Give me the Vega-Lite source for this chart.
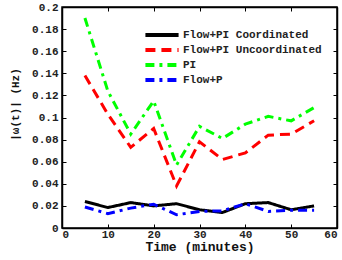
{
  "$schema": "https://vega.github.io/schema/vega-lite/v6.json",
  "width": 275,
  "height": 221,
  "autosize": "none",
  "padding": {"left": 62, "top": 7, "right": 5, "bottom": 32},
  "config": {
    "view": {"stroke": "black", "strokeWidth": 1.5},
    "font": "Liberation Mono",
    "axis": {
      "labelFont": "Liberation Mono", "labelFontWeight": "bold", "labelFontSize": 11, "labelColor": "#222",
      "titleFont": "Liberation Mono", "titleFontWeight": "bold", "titleFontSize": 13, "titleColor": "#111",
      "grid": false, "domainColor": "black", "domainWidth": 1.5, "tickColor": "black", "tickSize": -4, "tickWidth": 1
    }
  },
  "data": {"values": [
    {"t": 5, "v": 0.024, "s": "Flow+PI Coordinated"},
    {"t": 10, "v": 0.0185, "s": "Flow+PI Coordinated"},
    {"t": 15, "v": 0.023, "s": "Flow+PI Coordinated"},
    {"t": 20, "v": 0.020, "s": "Flow+PI Coordinated"},
    {"t": 25, "v": 0.022, "s": "Flow+PI Coordinated"},
    {"t": 30, "v": 0.0165, "s": "Flow+PI Coordinated"},
    {"t": 35, "v": 0.014, "s": "Flow+PI Coordinated"},
    {"t": 40, "v": 0.022, "s": "Flow+PI Coordinated"},
    {"t": 45, "v": 0.023, "s": "Flow+PI Coordinated"},
    {"t": 50, "v": 0.0165, "s": "Flow+PI Coordinated"},
    {"t": 55, "v": 0.020, "s": "Flow+PI Coordinated"},
    {"t": 5, "v": 0.138, "s": "Flow+PI Uncoordinated"},
    {"t": 10, "v": 0.103, "s": "Flow+PI Uncoordinated"},
    {"t": 15, "v": 0.073, "s": "Flow+PI Uncoordinated"},
    {"t": 20, "v": 0.090, "s": "Flow+PI Uncoordinated"},
    {"t": 25, "v": 0.038, "s": "Flow+PI Uncoordinated"},
    {"t": 30, "v": 0.078, "s": "Flow+PI Uncoordinated"},
    {"t": 35, "v": 0.062, "s": "Flow+PI Uncoordinated"},
    {"t": 40, "v": 0.068, "s": "Flow+PI Uncoordinated"},
    {"t": 45, "v": 0.084, "s": "Flow+PI Uncoordinated"},
    {"t": 50, "v": 0.085, "s": "Flow+PI Uncoordinated"},
    {"t": 55, "v": 0.097, "s": "Flow+PI Uncoordinated"},
    {"t": 5, "v": 0.190, "s": "PI"},
    {"t": 10, "v": 0.124, "s": "PI"},
    {"t": 15, "v": 0.085, "s": "PI"},
    {"t": 20, "v": 0.115, "s": "PI"},
    {"t": 25, "v": 0.057, "s": "PI"},
    {"t": 30, "v": 0.092, "s": "PI"},
    {"t": 35, "v": 0.081, "s": "PI"},
    {"t": 40, "v": 0.094, "s": "PI"},
    {"t": 45, "v": 0.101, "s": "PI"},
    {"t": 50, "v": 0.097, "s": "PI"},
    {"t": 55, "v": 0.109, "s": "PI"},
    {"t": 5, "v": 0.019, "s": "Flow+P"},
    {"t": 10, "v": 0.013, "s": "Flow+P"},
    {"t": 15, "v": 0.018, "s": "Flow+P"},
    {"t": 20, "v": 0.0215, "s": "Flow+P"},
    {"t": 25, "v": 0.012, "s": "Flow+P"},
    {"t": 30, "v": 0.015, "s": "Flow+P"},
    {"t": 35, "v": 0.0155, "s": "Flow+P"},
    {"t": 40, "v": 0.022, "s": "Flow+P"},
    {"t": 45, "v": 0.015, "s": "Flow+P"},
    {"t": 50, "v": 0.016, "s": "Flow+P"},
    {"t": 55, "v": 0.016, "s": "Flow+P"}
  ]},
  "layer": [
    {
      "mark": {"type": "line", "strokeWidth": 3},
      "encoding": {
        "x": {"field": "t", "type": "quantitative", "scale": {"domain": [0, 60], "nice": false}, "axis": {"values": [0,10,20,30,40,50,60], "title": "Time (minutes)", "labelPadding": 4, "titlePadding": 1}},
        "y": {"field": "v", "type": "quantitative", "scale": {"domain": [0, 0.2], "nice": false}, "axis": {"values": [0,0.02,0.04,0.06,0.08,0.1,0.12,0.14,0.16,0.18,0.2], "format": ".2~f", "title": "|ω(t)| (Hz)", "labelPadding": 8, "titleX": -42, "titleY": 97, "titleFontSize": 11}},
        "color": {"field": "s", "type": "nominal", "sort": null,
          "scale": {"domain": ["Flow+PI Coordinated", "Flow+PI Uncoordinated", "PI", "Flow+P"], "range": ["black", "#ff0000", "#00ff00", "#0000ff"]},
          "legend": {"title": null, "orient": "none", "legendX": 81, "legendY": 22, "symbolType": "stroke", "symbolSize": 1100, "symbolStrokeWidth": 4, "clipHeight": 12, "labelFont": "Liberation Mono", "labelFontWeight": "bold", "labelFontSize": 11, "labelColor": "#222", "labelLimit": 0, "rowPadding": 3, "labelOffset": 2}},
        "strokeDash": {"field": "s", "type": "nominal", "sort": null,
          "scale": {"domain": ["Flow+PI Coordinated", "Flow+PI Uncoordinated", "PI", "Flow+P"], "range": [[1,0], [10,6], [9,5,3,5], [9,5,3,5]]},
          "legend": null}
      }
    },
    {
      "mark": {"type": "line", "opacity": 0},
      "encoding": {
        "x": {"field": "t", "type": "quantitative", "scale": {"domain": [0, 60], "nice": false}, "axis": {"orient": "top", "values": [0,10,20,30,40,50,60], "labels": false, "title": null}},
        "y": {"field": "v", "type": "quantitative", "scale": {"domain": [0, 0.2], "nice": false}, "axis": {"orient": "right", "values": [0,0.02,0.04,0.06,0.08,0.1,0.12,0.14,0.16,0.18,0.2], "labels": false, "title": null}}
      }
    }
  ],
  "resolve": {"axis": {"x": "independent", "y": "independent"}}
}
